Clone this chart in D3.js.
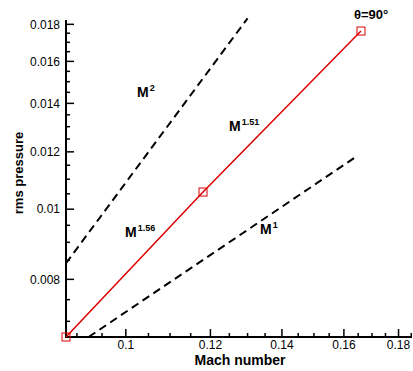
<!DOCTYPE html>
<html>
<head>
<meta charset="utf-8">
<script src="https://cdn.jsdelivr.net/npm/d3@7"></script>
<style>
  body { margin: 0; background: #fff; }
  svg { font-family: "Liberation Sans", Arial, sans-serif; }
</style>
</head>
<body>
<svg id="chart" width="413" height="371"></svg>
<script>
// measured values, theta = 90 deg
var mach = [0.0879, 0.1181, 0.166];
var prms = [0.00666, 0.01056, 0.01762];

// reference slopes (dashed), end points only
var refM2 = [[0.0879, 0.00842], [0.1300, 0.01835]];
var refM1 = [[0.0923, 0.00666], [0.1642, 0.01181]];

var xTicks = [0.1, 0.12, 0.14, 0.16, 0.18];
var yTicks = [0.008, 0.01, 0.012, 0.014, 0.016, 0.018];
var xMinor = d3.range(0.09, 0.1851, 0.005);
var yMinor = d3.range(0.007, 0.01821, 0.0005);

var svg = d3.select("#chart");

var x = d3.scaleLog().domain([0.0879, 0.1853]).range([66, 412]);
var y = d3.scaleLog().domain([0.00666, 0.01825]).range([337, 20]);

// axes, ticks pointing inward
var xAxis = svg.append("g").attr("transform", "translate(0,337)");
xAxis.append("line").attr("x1", 66).attr("x2", 412).attr("stroke", "#000").attr("stroke-width", 2);
xAxis.selectAll("line.minor").data(xMinor).enter().append("line")
  .attr("x1", function(d) { return x(d); }).attr("x2", function(d) { return x(d); })
  .attr("y1", 0).attr("y2", function(d) {
    var major = xTicks.some(function(t) { return Math.abs(t - d) < 1e-6; });
    return major ? -8 : -4;
  })
  .attr("stroke", "#000").attr("stroke-width", 1.5);
xAxis.selectAll("text").data(xTicks).enter().append("text")
  .attr("x", function(d) { return x(d); }).attr("y", 12)
  .attr("text-anchor", "middle").attr("font-size", 12)
  .text(function(d) { return d; });

var yAxis = svg.append("g").attr("transform", "translate(66,0)");
yAxis.append("line").attr("y1", 20).attr("y2", 338).attr("stroke", "#000").attr("stroke-width", 2);
yAxis.selectAll("line.minor").data(yMinor).enter().append("line")
  .attr("y1", function(d) { return y(d); }).attr("y2", function(d) { return y(d); })
  .attr("x1", 0).attr("x2", function(d) {
    var major = yTicks.some(function(t) { return Math.abs(t - d) < 1e-7; });
    return major ? 8 : 4;
  })
  .attr("stroke", "#000").attr("stroke-width", 1.5);
yAxis.selectAll("text").data(yTicks).enter().append("text")
  .attr("x", -6).attr("y", function(d) { return y(d); })
  .attr("dy", "0.35em")
  .attr("text-anchor", "end").attr("font-size", 12)
  .text(function(d) { return d; });

// axis titles
svg.append("text").attr("x", 240).attr("y", 365).attr("text-anchor", "middle")
  .attr("font-size", 14).attr("font-weight", "bold").text("Mach number");
svg.append("text").attr("transform", "translate(23,173) rotate(-90)").attr("text-anchor", "middle")
  .attr("font-size", 13).attr("font-weight", "bold").text("rms pressure");

// dashed reference lines
var line = d3.line().x(function(d) { return x(d[0]); }).y(function(d) { return y(d[1]); });
[refM2, refM1].forEach(function(ref) {
  svg.append("path").attr("d", line(ref))
    .attr("fill", "none").attr("stroke", "#000").attr("stroke-width", 2)
    .attr("stroke-dasharray", "8,5");
});

// measured line
var pts = mach.map(function(m, i) { return [m, prms[i]]; });
svg.append("path").attr("d", line(pts))
  .attr("fill", "none").attr("stroke", "#dd0000").attr("stroke-width", 1.5);
svg.selectAll("rect.pt").data(pts).enter().append("rect")
  .attr("x", function(d) { return x(d[0]) - 4; })
  .attr("y", function(d) { return y(d[1]) - 4; })
  .attr("width", 8).attr("height", 8)
  .attr("fill", "none").attr("stroke", "#dd0000").attr("stroke-width", 1);

// slope labels
function powerLabel(px, py, exp) {
  var t = svg.append("text").attr("x", px).attr("y", py)
    .attr("font-size", 14).attr("font-weight", "bold");
  t.append("tspan").text("M");
  t.append("tspan").attr("font-size", 9).attr("dy", -6).attr("dx", 1).text(exp);
}
powerLabel(137, 97, "2");
powerLabel(229, 131, "1.51");
powerLabel(125, 237, "1.56");
powerLabel(260, 234, "1");

svg.append("text").attr("x", 354).attr("y", 19)
  .attr("font-size", 13).attr("font-weight", "bold").text("\u03b8=90\u00b0");
</script>
</body>
</html>
